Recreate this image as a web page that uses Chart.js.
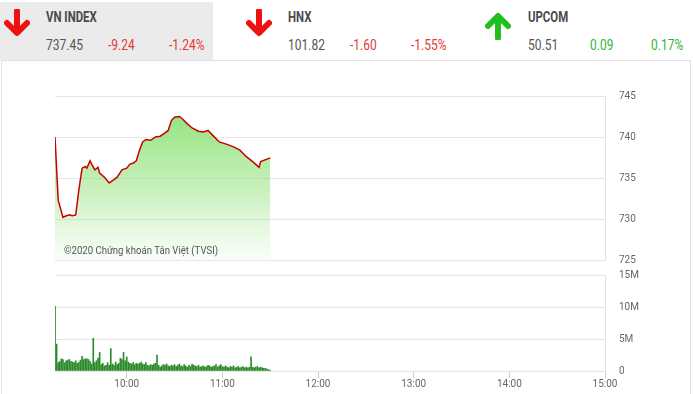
<!DOCTYPE html>
<html>
<head>
<meta charset="utf-8">
<script src="https://cdn.jsdelivr.net/npm/chart.js@4.4.1/dist/chart.umd.min.js"></script>
<style>
    body { margin: 0; width: 693px; height: 394px; overflow: hidden; background: #fff; font-family: Roboto, sans-serif; position: relative; }
    #head1 { position: absolute; left: 0; top: 2px; width: 213px; height: 58px; background: #ebebeb; }
    #box { position: absolute; left: 1px; top: 60px; width: 688px; height: 340px; border: 1px solid #e2e2e2; }
    .t { position: absolute; white-space: nowrap; line-height: 20px; font-size: 15px; transform-origin: left center; transform: scaleX(0.8); }
    .name { font-weight: bold; color: #4a4a4a; transform: scaleX(0.76); }
    .val { color: #555; }
    .dn { color: #e53935; }
    .up { color: #2fb52f; }
    svg { position: absolute; }
    canvas { position: absolute; left: 0; }
</style>
</head>
<body>
<div id="head1"></div>
<div id="box"></div>
<div id="header"></div>
<canvas id="price" width="693" height="204" style="top:76px"></canvas>
<canvas id="volume" width="693" height="140" style="top:255px"></canvas>
<script>
// header
const indexNames = ['VN INDEX', 'HNX', 'UPCOM'];
const indexValues = ['737.45', '101.82', '50.51'];
const indexChanges = ['-9.24', '-1.60', '0.09'];
const indexPercents = ['-1.24%', '-1.55%', '0.17%'];

// intraday price
const priceTimes = ['09:15', '09:17', '09:20', '09:21', '09:24', '09:26', '09:28', '09:30', '09:32', '09:34',
    '09:35', '09:37', '09:38', '09:40', '09:42', '09:43', '09:46', '09:49', '09:52', '09:54',
    '09:57', '10:00', '10:02', '10:04', '10:06', '10:08', '10:10', '10:12', '10:15', '10:18',
    '10:21', '10:24', '10:26', '10:28', '10:30', '10:33', '10:35', '10:38', '10:41', '10:45',
    '10:48', '10:51', '10:54', '10:58', '11:03', '11:07', '11:11', '11:15', '11:19', '11:23',
    '11:24', '11:28', '11:30'];
const priceValues = [740.0, 732.3, 730.2, 730.3, 730.5, 730.4, 730.5, 733.6, 736.2, 736.4,
    736.2, 737.1, 736.7, 736.0, 736.3, 735.6, 735.1, 734.4, 734.8, 735.1,
    736.0, 736.2, 736.7, 736.8, 737.1, 738.4, 739.4, 739.7, 739.6, 740.0,
    740.1, 740.5, 740.8, 742.0, 742.4, 742.5, 742.2, 741.6, 741.1, 740.7,
    740.6, 740.8, 740.2, 739.4, 739.1, 738.8, 738.4, 737.6, 737.0, 736.3,
    737.0, 737.3, 737.45];

// volume per minute (millions)
const volTimes = [
    '09:15', '09:16', '09:17', '09:18', '09:19', '09:20', '09:21', '09:22', '09:23', '09:24',
    '09:25', '09:26', '09:27', '09:28', '09:29', '09:30', '09:31', '09:32', '09:33', '09:34',
    '09:35', '09:36', '09:37', '09:38', '09:39', '09:40', '09:41', '09:42', '09:43', '09:44',
    '09:45', '09:46', '09:47', '09:48', '09:49', '09:50', '09:51', '09:52', '09:53', '09:54',
    '09:55', '09:56', '09:57', '09:58', '09:59', '10:00', '10:01', '10:02', '10:03', '10:04',
    '10:05', '10:06', '10:07', '10:08', '10:09', '10:10', '10:11', '10:12', '10:13', '10:14',
    '10:15', '10:16', '10:17', '10:18', '10:19', '10:20', '10:21', '10:22', '10:23', '10:24',
    '10:25', '10:26', '10:27', '10:28', '10:29', '10:30', '10:31', '10:32', '10:33', '10:34',
    '10:35', '10:36', '10:37', '10:38', '10:39', '10:40', '10:41', '10:42', '10:43', '10:44',
    '10:45', '10:46', '10:47', '10:48', '10:49', '10:50', '10:51', '10:52', '10:53', '10:54',
    '10:55', '10:56', '10:57', '10:58', '10:59', '11:00', '11:01', '11:02', '11:03', '11:04',
    '11:05', '11:06', '11:07', '11:08', '11:09', '11:10', '11:11', '11:12', '11:13', '11:14',
    '11:15', '11:16', '11:17', '11:18', '11:19', '11:20', '11:21', '11:22', '11:23', '11:24',
    '11:25', '11:26', '11:27', '11:28', '11:29', '11:30'];
const volValues = [
    10.1, 4.2, 1.3, 1.5, 1.9, 1.8, 1.3, 1.6, 1.7, 1.8,
    1.5, 1.4, 1.3, 1.6, 1.2, 1.4, 1.7, 2.3, 1.8, 1.9,
    1.9, 1.8, 1.5, 1.1, 5.1, 1.3, 1.6, 2.0, 2.9, 1.0,
    1.2, 0.8, 0.9, 1.3, 0.9, 3.5, 1.1, 0.9, 1.4, 1.0,
    1.2, 2.0, 1.8, 2.9, 1.6, 2.2, 1.4, 1.2, 1.1, 1.3,
    1.0, 1.2, 1.1, 1.2, 1.4, 1.1, 1.0, 1.3, 0.9, 0.8,
    1.0, 0.9, 1.1, 1.2, 2.5, 0.9, 0.6, 0.8, 1.0, 0.9,
    1.1, 0.8, 0.7, 0.9, 0.8, 1.0, 0.7, 0.9, 1.1, 0.8,
    0.7, 1.0, 0.8, 0.6, 0.9, 0.7, 1.1, 0.9, 0.8, 0.7,
    0.9, 0.6, 0.7, 0.8, 0.6, 0.7, 0.9, 0.8, 0.6, 0.7,
    0.8, 1.0, 0.6, 0.8, 1.0, 0.7, 0.6, 0.8, 0.6, 0.5,
    0.7, 0.6, 0.8, 0.5, 0.6, 0.7, 0.5, 0.6, 0.7, 0.5,
    0.6, 0.5, 0.6, 2.2, 0.6, 0.5, 0.6, 0.7, 0.5, 0.6,
    0.5, 0.4, 0.4, 0.3, 0.2, 0.1];

const priceTicks = [725, 730, 735, 740, 745];
const volTicks = [0, 5, 10, 15];
const timeTicks = ['10:00', '11:00', '12:00', '13:00', '14:00', '15:00'];
const copyright = '©2020 Chứng khoán Tân Việt (TVSI)';

const sessionStart = '09:15';
const sessionEnd = '15:00';

const toMin = function(s) {
    const p = s.split(':').map(Number);
    const q = sessionStart.split(':').map(Number);
    return (p[0] * 60 + p[1]) - (q[0] * 60 + q[1]);
};

// header blocks
const headLeft = [46, 288, 528];
const arrowLeft = [4, 246, 485];
let html = '';
indexNames.forEach(function(name, i) {
    const up = parseFloat(indexChanges[i]) >= 0;
    const cls = up ? 'up' : 'dn';
    const col = up ? '#1fbf1f' : '#ee1111';
    const path = up ? 'M13 26 L13 5 M3 14 L13 4 L23 14' : 'M13 2 L13 23 M3 14 L13 24 L23 14';
    html += '<svg width="26" height="28" style="left:' + arrowLeft[i] + 'px;top:' + (up ? 12 : 9) + 'px">' +
        '<path d="' + path + '" stroke="' + col + '" stroke-width="6" fill="none" stroke-linecap="round" stroke-linejoin="round"/></svg>';
    html += '<span class="t name" style="left:' + headLeft[i] + 'px;top:7px">' + name + '</span>';
    html += '<span class="t val" style="left:' + headLeft[i] + 'px;top:35px">' + indexValues[i] + '</span>';
    html += '<span class="t ' + cls + '" style="left:' + (headLeft[i] + 62) + 'px;top:35px">' + indexChanges[i] + '</span>';
    html += '<span class="t ' + cls + '" style="left:' + (headLeft[i] + 123) + 'px;top:35px">' + indexPercents[i] + '</span>';
});
document.getElementById('header').innerHTML = html;

const tickFont = { family: 'Roboto', size: 10 };

const copyrightPlugin = {
    id: 'copyright',
    afterDatasetsDraw: function(chart) {
        const a = chart.chartArea;
        const ctx = chart.ctx;
        ctx.save();
        ctx.translate(a.left + 9, a.bottom - 9);
        ctx.scale(0.87, 1);
        ctx.font = '11px Roboto';
        ctx.fillStyle = '#555';
        ctx.textBaseline = 'middle';
        ctx.fillText(copyright, 0, 0);
        ctx.restore();
    }
};

new Chart(document.getElementById('price'), {
    type: 'line',
    data: {
        datasets: [{
            data: priceTimes.map(function(t, i) { return { x: toMin(t), y: priceValues[i] }; }),
            borderColor: '#c80000',
            borderWidth: 1.5,
            pointRadius: 0,
            tension: 0,
            fill: 'start',
            backgroundColor: function(c) {
                const a = c.chart.chartArea;
                if (!a) return 'rgba(120,220,95,0.5)';
                const g = c.chart.ctx.createLinearGradient(0, a.top, 0, a.bottom);
                g.addColorStop(0, 'rgba(110,218,85,0.85)');
                g.addColorStop(0.6, 'rgba(140,225,115,0.45)');
                g.addColorStop(1, 'rgba(160,230,140,0.05)');
                return g;
            }
        }]
    },
    options: {
        responsive: false,
        animation: false,
        // tick padding of the y axis already keeps 19px above and below
        layout: { padding: { left: 55, top: 0, bottom: 0, right: 0 } },
        plugins: { legend: { display: false }, tooltip: { enabled: false } },
        scales: {
            x: { type: 'linear', min: 0, max: toMin(sessionEnd), display: false },
            y: {
                position: 'right',
                min: 725,
                max: 745,
                afterBuildTicks: function(s) { s.ticks = priceTicks.map(function(v) { return { value: v }; }); },
                afterFit: function(s) { s.width = 88; },
                grid: { color: '#e6e6e6', drawTicks: false },
                border: { display: true, color: '#dfe4e8' },
                ticks: { padding: 14, color: '#666', font: tickFont }
            }
        }
    },
    plugins: [copyrightPlugin]
});

new Chart(document.getElementById('volume'), {
    type: 'bar',
    data: {
        datasets: [{
            data: volTimes.map(function(t, i) { return { x: toMin(t), y: volValues[i] }; }),
            backgroundColor: '#2c8c2c',
            barThickness: 1
        }]
    },
    options: {
        responsive: false,
        animation: false,
        layout: { padding: { left: 55, top: 0, bottom: 0, right: 0 } },
        plugins: { legend: { display: false }, tooltip: { enabled: false } },
        scales: {
            x: {
                type: 'linear',
                offset: false,
                min: 0,
                max: toMin(sessionEnd),
                afterBuildTicks: function(s) { s.ticks = timeTicks.map(function(t) { return { value: toMin(t) }; }); },
                afterFit: function(s) { s.height = 24; },
                grid: { offset: false, drawOnChartArea: false, color: '#cfcfcf', tickLength: 7 },
                border: { display: false },
                ticks: {
                    padding: 0,
                    color: '#666',
                    font: tickFont,
                    maxRotation: 0,
                    autoSkip: false,
                    callback: function(v, i) { return timeTicks[i]; }
                }
            },
            y: {
                position: 'right',
                min: 0,
                max: 15,
                afterBuildTicks: function(s) { s.ticks = volTicks.map(function(v) { return { value: v }; }); },
                afterFit: function(s) { s.width = 88; },
                grid: { color: '#e6e6e6', drawTicks: false },
                border: { display: true, color: '#dfe4e8' },
                ticks: {
                    padding: 14,
                    color: '#666',
                    font: tickFont,
                    callback: function(v) { return v === 0 ? '0' : v + 'M'; }
                }
            }
        }
    }
});
</script>
</body>
</html>
